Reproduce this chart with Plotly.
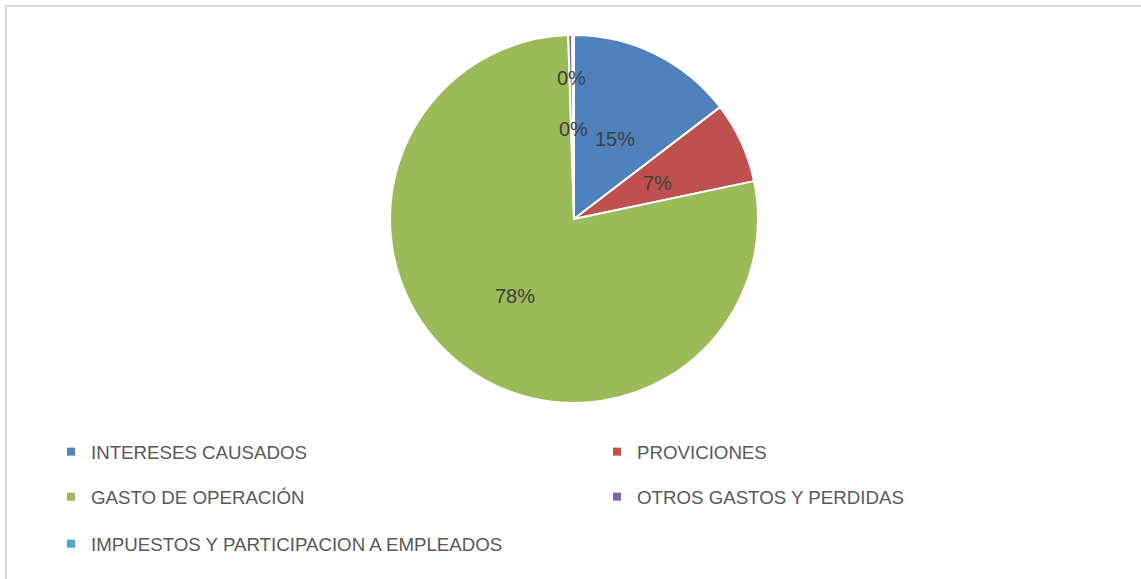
import math
import plotly.graph_objects as go

# categories and shares
labels = ["INTERESES CAUSADOS", "PROVICIONES", "GASTO DE OPERACIÓN",
          "OTROS GASTOS Y PERDIDAS", "IMPUESTOS Y PARTICIPACION A EMPLEADOS"]
values = [14.6, 7.1, 77.8, 0.35, 0.15]
colors = ["#4F81BD", "#C0504D", "#9BBB59", "#8064A2", "#4BACC6"]

W, H = 1141, 579
# pie placement (pixels)
px0, px1, py0, py1 = 390, 758, 35, 403
cx, cy, r = (px0 + px1) / 2, (py0 + py1) / 2, (px1 - px0) / 2

total = sum(values)
pct = ["%d%%" % round(v / total * 100) for v in values]

fig = go.Figure()

fig.add_trace(go.Pie(
    labels=labels,
    values=values,
    textinfo="none",
    marker=dict(colors=colors, line=dict(color="white", width=2)),
    sort=False,
    direction="clockwise",
    rotation=0,
    showlegend=False,
    domain=dict(x=[px0 / W, px1 / W], y=[1 - py1 / H, 1 - py0 / H]),
))

# data labels placed like Excel's best fit: at the slice's mid angle
label_radius = [0.5, 0.5, 0.52, 0.78, 0.5]
annotations = []
cum = 0
for v, p, k in zip(values, pct, label_radius):
    ang = math.radians((cum + v / 2) / total * 360)
    cum += v
    lx = cx + k * r * math.sin(ang)
    ly = cy - k * r * math.cos(ang) + 2
    annotations.append(dict(text=p, x=lx / W, y=1 - ly / H, xref="paper", yref="paper",
                            xanchor="center", yanchor="middle", showarrow=False,
                            font=dict(family="Liberation Sans", size=20, color="#404040")))

# legend: one dummy trace per category, each in its own legend box
leg_pos = [(51, 452), (597, 452), (51, 497), (597, 497), (51, 544)]
legends = {}
for i, (lab, col, (lxp, lyp)) in enumerate(zip(labels, colors, leg_pos)):
    name = "legend" if i == 0 else "legend%d" % (i + 1)
    fig.add_trace(go.Scatter(
        x=[None], y=[None], mode="markers", name=lab, legend=name,
        marker=dict(symbol="square", size=8, color=col),
    ))
    legends[name] = dict(
        x=lxp / W, y=1 - lyp / H, xanchor="left", yanchor="middle",
        font=dict(family="Liberation Sans", size=18.7, color="#595959"),
        bgcolor="rgba(0,0,0,0)", itemclick=False,
    )

fig.update_layout(
    width=W, height=H,
    margin=dict(l=0, r=0, t=0, b=0, autoexpand=False),
    paper_bgcolor="white", plot_bgcolor="white",
    xaxis=dict(visible=False), yaxis=dict(visible=False),
    shapes=[dict(type="rect", xref="paper", yref="paper",
                 x0=6 / W, y0=-0.05, x1=1.05, y1=1 - 6 / H,
                 line=dict(color="#D9D9D9", width=2), layer="below")],
    annotations=annotations,
    **legends,
)

# drop the page's default body margin so the figure sits at the window corner
fig.write_html("out.html", config={"displayModeBar": False},
               post_script="document.body.style.margin='0';")
